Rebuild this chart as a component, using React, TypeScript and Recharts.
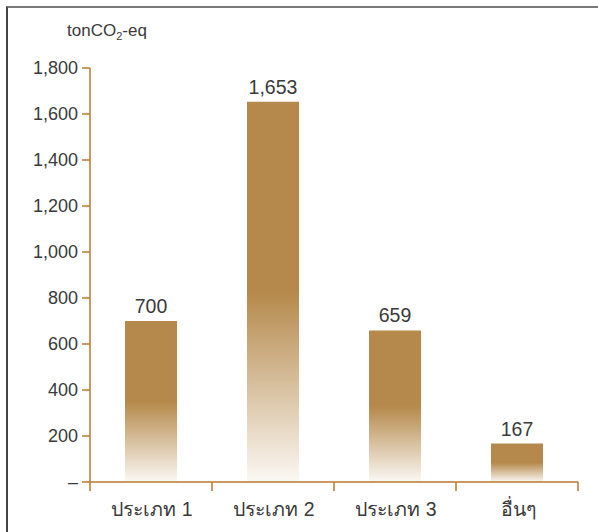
import React from "react";
import { BarChart, Bar, XAxis, YAxis, LabelList } from "recharts";

const categories = ["ประเภท 1", "ประเภท 2", "ประเภท 3", "อื่นๆ"];
const emissions = [700, 1653, 659, 167];
const yTicks = [0, 200, 400, 600, 800, 1000, 1200, 1400, 1600, 1800];

const data = categories.map((name, i) => ({ name, value: emissions[i] }));

const AXIS = "#b8782e";
const BAR = "#b5894b";
const TEXT = "#3a3a3a";
const FONT = "'Liberation Sans', Arial, Helvetica, sans-serif";

const W = 598;
const H = 532;
const LEFT = 90;
const RIGHT = 20;
const BAND = (W - LEFT - RIGHT) / categories.length;

function formatTick(v: number) {
  if (v === 0) return "–";
  return v.toLocaleString("en-US");
}

// category labels centred, tick marks on the band edges
function CategoryTick(props: any) {
  const { x, y, payload, index } = props;
  const left = x - BAND / 2;
  const isLast = index === categories.length - 1;
  return (
    <g>
      <line x1={left} y1={y - 8} x2={left} y2={y + 1} stroke={AXIS} strokeWidth={1.5} />
      {isLast && (
        <line x1={x + BAND / 2} y1={y - 8} x2={x + BAND / 2} y2={y + 1} stroke={AXIS} strokeWidth={1.5} />
      )}
      <text
        x={x + 1}
        y={y + 26}
        textAnchor="middle"
        fill={TEXT}
        fontSize={19.5}
        fontFamily={FONT}
      >
        {payload.value}
      </text>
    </g>
  );
}

export default function App() {
  return (
    <div
      style={{
        position: "absolute",
        left: 0,
        top: 0,
        width: W,
        height: H,
        background: "#fff",
        fontFamily: FONT,
      }}
    >
      <div
        style={{
          position: "absolute",
          left: 6,
          top: 6,
          right: 0,
          bottom: 0,
          borderTop: "2px solid #777",
          borderLeft: "2px solid #444",
        }}
      />
      <div
        style={{
          position: "absolute",
          left: 67,
          top: 21,
          fontSize: 17,
          color: TEXT,
          fontFamily: FONT,
        }}
      >
        tonCO<sub style={{ fontSize: 11 }}>2</sub>-eq
      </div>
      <BarChart
        width={W}
        height={H}
        data={data}
        margin={{ top: 68, right: RIGHT, bottom: 0, left: 0 }}
        barSize={52}
      >
        <defs>
          <linearGradient id="barFade" x1="0" y1="0" x2="0" y2="1">
            <stop offset="0" stopColor={BAR} />
            <stop offset="0.5" stopColor={BAR} />
            <stop offset="1" stopColor="#fbf8f4" />
          </linearGradient>
        </defs>
        <XAxis
          dataKey="name"
          height={50}
          stroke={AXIS}
          strokeWidth={1.5}
          tickLine={false}
          tick={<CategoryTick />}
          interval={0}
        />
        <YAxis
          width={LEFT}
          domain={[0, 1800]}
          ticks={yTicks}
          tickFormatter={formatTick}
          stroke={AXIS}
          strokeWidth={1.5}
          tickSize={8}
          tickMargin={4}
          tick={{ fill: TEXT, fontSize: 18, fontFamily: FONT }}
          interval={0}
        />
        <Bar dataKey="value" fill="url(#barFade)" isAnimationActive={false}>
          <LabelList
            dataKey="value"
            position="top"
            offset={8}
            formatter={(v: any) => Number(v).toLocaleString("en-US")}
            style={{ fill: TEXT, fontSize: 19.5, fontFamily: FONT }}
          />
        </Bar>
      </BarChart>
    </div>
  );
}
